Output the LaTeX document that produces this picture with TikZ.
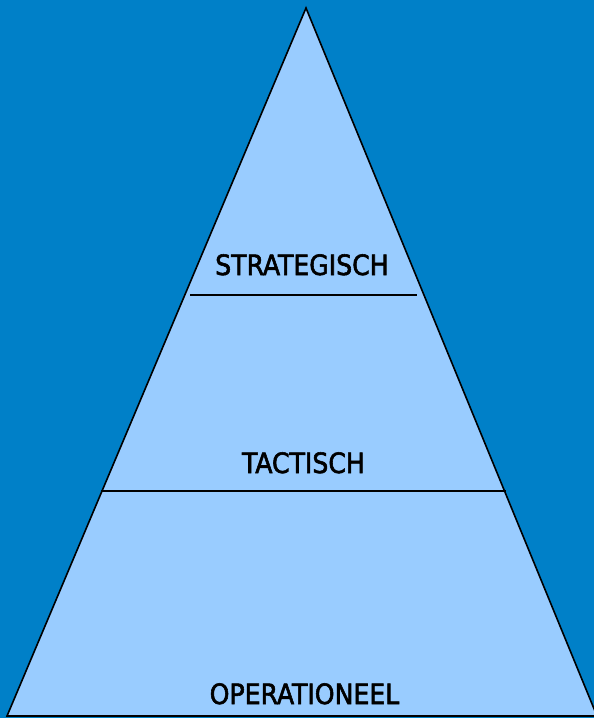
\documentclass[tikz,border=0pt]{standalone}
\usepackage{fontspec}
\setmainfont{DejaVu Sans Condensed}[FakeBold=2]
\definecolor{bgblue}{RGB}{0,128,200}
\definecolor{layerblue}{RGB}{153,204,255}
\tikzset{
  layer/.style={anchor=base, font=\fontsize{28}{30}\selectfont, inner sep=0pt},
  divider/.style={line width=1.6pt, black}
}
\begin{document}
\begin{tikzpicture}[x=1pt,y=-1pt]

%% background and pyramid
\fill[bgblue] (0,0) rectangle (594,718);
\useasboundingbox (0,0) rectangle (594,718);
\coordinate (top) at (306,8);
\coordinate (bl) at (7,716);
\coordinate (br) at (597,716);
\filldraw[fill=layerblue, draw=black, line width=1.6pt, line join=miter] (top)--(bl)--(br)--cycle;

%% level dividers
\coordinate (s1) at (190,295);
\coordinate (s2) at (417,295);
\coordinate (t1) at (101,491);
\coordinate (t2) at (506,491);
\draw [divider] (s1)--(s2);
\draw [divider] (t1)--(t2);

%% level labels
\node (strat) [layer] at (302,275) {STRATEGISCH};
\node (tact)  [layer] at (303.5,473) {TACTISCH};
\node (oper)  [layer] at (304.5,704) {OPERATIONEEL};
\end{tikzpicture}
\end{document}
